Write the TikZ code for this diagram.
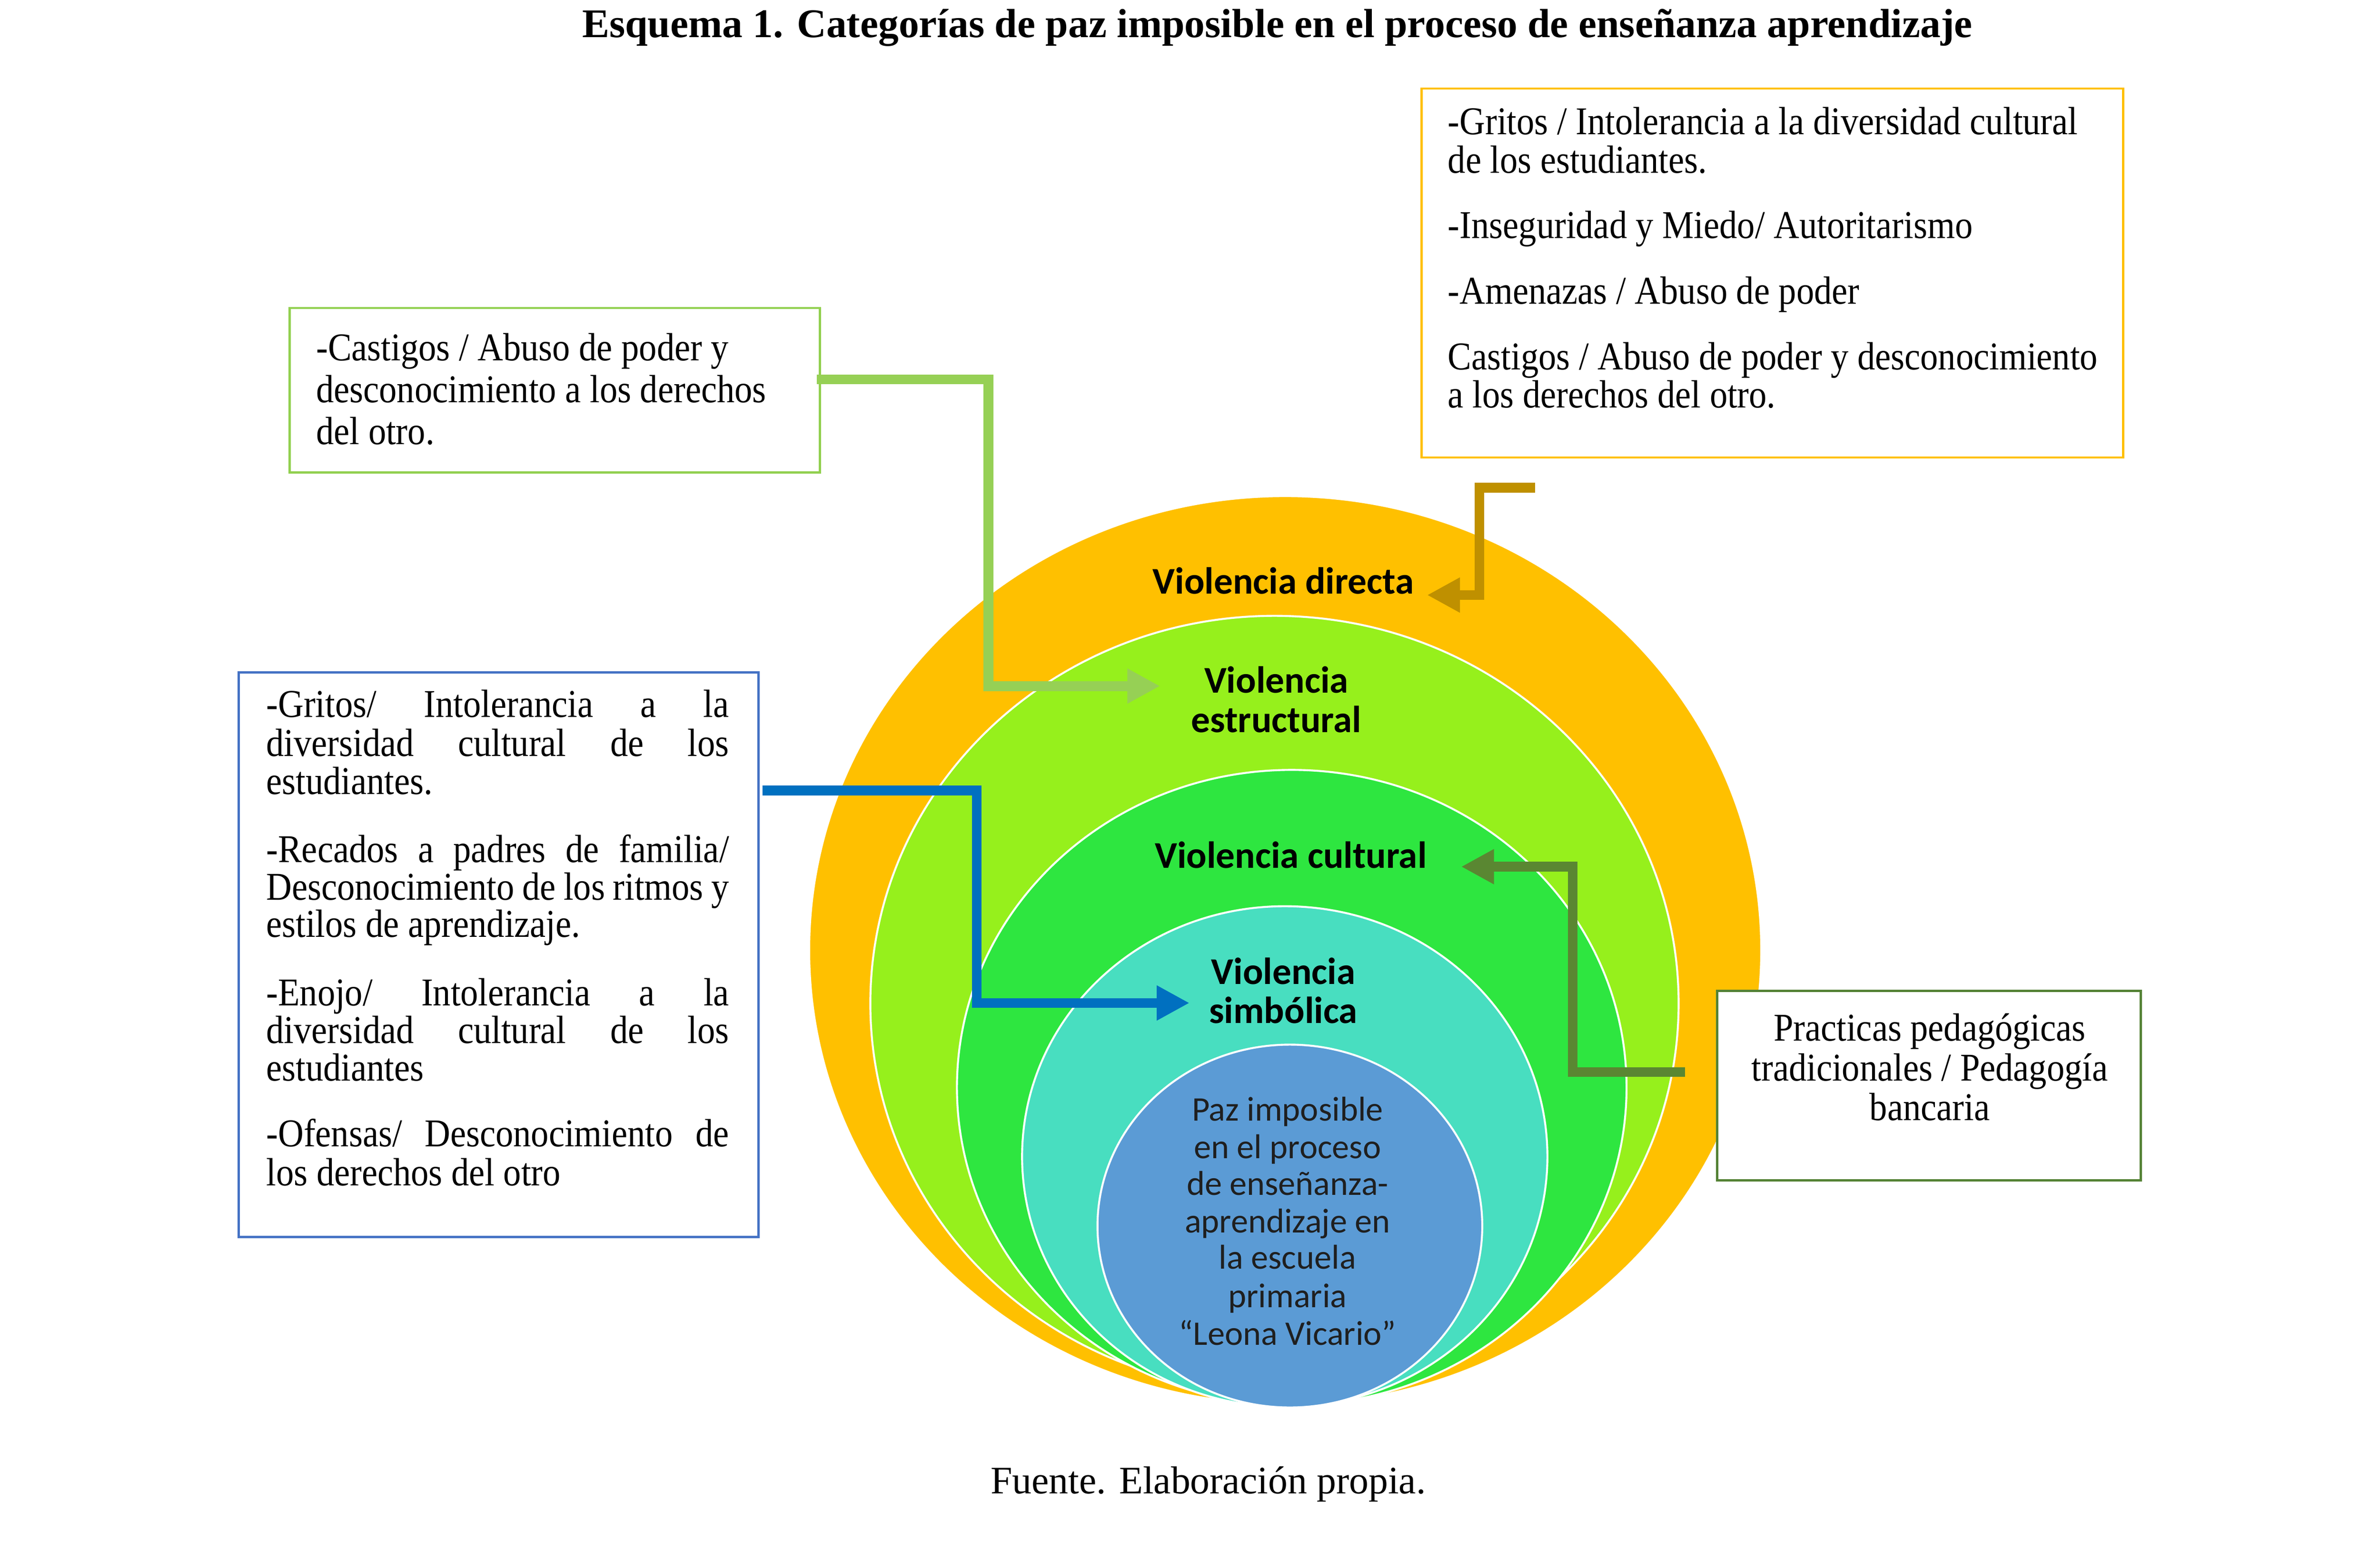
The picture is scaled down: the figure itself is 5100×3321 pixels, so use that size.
\documentclass[tikz,border=0pt]{standalone}
\usepackage{fontspec}
\setmainfont{Liberation Serif}
\newfontfamily\boxfont[FakeStretch=0.9]{Liberation Serif}
\newfontfamily\calfont{Carlito}
\usetikzlibrary{arrows.meta,shapes.geometric}
\definecolor{cOrange}{HTML}{FFC000}
\definecolor{cLime}{RGB}{150,240,28}
\definecolor{cGreen}{RGB}{46,230,64}
\definecolor{cTurq}{RGB}{72,222,192}
\definecolor{cBlue}{HTML}{5B9BD5}
\definecolor{bGreen}{HTML}{92D050}
\definecolor{bYellow}{HTML}{FFC000}
\definecolor{bBlue}{HTML}{4472C4}
\definecolor{bDark}{HTML}{548235}
\definecolor{aLime}{RGB}{150,208,85}
\definecolor{aGold}{HTML}{BF9000}
\definecolor{aBlue}{HTML}{0070C0}
\definecolor{aDark}{RGB}{90,135,50}
\begin{document}
\begin{tikzpicture}[x=0.01cm,y=-0.01cm,
  ring/.style={ellipse, draw=white, line width=1.2pt, inner sep=0pt},
  frame/.style={rectangle, line width=1.4pt, inner sep=0pt, fill=white},
  btxt/.style={anchor=base west, inner sep=0pt, font=\boxfont\fontsize{24}{24}\selectfont},
  ctxt/.style={anchor=base, inner sep=0pt, font=\boxfont\fontsize{24}{24}\selectfont},
  lbl/.style={anchor=base, inner sep=0pt, font=\calfont\bfseries\fontsize{23}{23}\selectfont},
  core/.style={anchor=base, inner sep=0pt, text=black!88, font=\calfont\fontsize{21}{21}\selectfont},
  conn/.style={line width=6pt, -{Triangle[length=20pt,width=20pt]}},
]
\useasboundingbox[fill=white] (0,0) rectangle (5100,3321);

% title and source
\node[anchor=base, inner sep=0pt, font=\bfseries\fontsize{24.8}{24.8}\selectfont] (title) at (2737,80)
  {Esquema 1. Categorías de paz imposible en el proceso de enseñanza aprendizaje};
\node[anchor=base, inner sep=0pt, font=\fontsize{23.7}{23.7}\selectfont] (src) at (2589,3200)
  {Fuente. Elaboración propia.};

% nested ellipses
\node[ring, fill=cOrange, minimum width=20.39cm, minimum height=19.45cm] (e1) at (2754,2036) {};
\node[ring, fill=cLime, minimum width=17.31cm, minimum height=16.60cm] (e2) at (2731,2150) {};
\node[ring, fill=cGreen, minimum width=14.34cm, minimum height=13.60cm] (e3) at (2768,2330) {};
\node[ring, fill=cTurq, minimum width=11.25cm, minimum height=10.72cm] (e4) at (2753,2478) {};
\node[ring, fill=cBlue, minimum width=8.24cm, minimum height=7.77cm] (e5) at (2764,2627) {};

% ellipse labels
\node[lbl] (ldir) at (2750,1272) {Violencia directa};
\node[lbl] (lest1) at (2735,1485) {Violencia};
\node[lbl] (lest2) at (2735,1569) {estructural};
\node[lbl] (lcul) at (2766,1860) {Violencia cultural};
\node[lbl] (lsim1) at (2750,2109) {Violencia};
\node[lbl] (lsim2) at (2750,2192) {simbólica};
\node[core] (k1) at (2759,2402) {Paz imposible};
\node[core] (k2) at (2759,2482) {en el proceso};
\node[core] (k3) at (2759,2561) {de enseñanza-};
\node[core] (k4) at (2759,2641) {aprendizaje en};
\node[core] (k5) at (2759,2719) {la escuela};
\node[core] (k6) at (2759,2801) {primaria};
\node[core] (k7) at (2759,2882) {“Leona Vicario”};

% boxes
\node[frame, draw=bGreen, minimum width=11.36cm, minimum height=3.52cm] (gbox) at (1189,836) {};
\node[frame, draw=bYellow, minimum width=15.02cm, minimum height=7.90cm] (ybox) at (3798,585) {};
\node[frame, draw=bBlue, minimum width=11.13cm, minimum height=12.09cm] (bbox) at (1068.5,2045.5) {};
\node[frame, draw=bDark, minimum width=9.07cm, minimum height=4.06cm] (dbox) at (4133.5,2326) {};

% green box text
\node[btxt] (g1) at (677,773) {-Castigos / Abuso de poder y};
\node[btxt] (g2) at (677,862) {desconocimiento a los derechos};
\node[btxt] (g3) at (677,952) {del otro.};

% yellow box text
\node[btxt] (y1) at (3102,288) {-Gritos / Intolerancia a la diversidad cultural};
\node[btxt] (y2) at (3102,371) {de los estudiantes.};
\node[btxt] (y3) at (3102,510) {-Inseguridad y Miedo/ Autoritarismo};
\node[btxt] (y4) at (3102,651) {-Amenazas / Abuso de poder};
\node[btxt] (y5) at (3102,792) {Castigos / Abuso de poder y desconocimiento};
\node[btxt] (y6) at (3102,874) {a los derechos del otro.};

% blue box text (justified)
\node[btxt] (b1) at (570,1537) {\makebox[9.91cm][s]{-Gritos/ Intolerancia a la}};
\node[btxt] (b2) at (570,1620) {\makebox[9.91cm][s]{diversidad cultural de los}};
\node[btxt] (b3) at (570,1702) {estudiantes.};
\node[btxt] (b4) at (570,1848) {\makebox[9.91cm][s]{-Recados a padres de familia/}};
\node[btxt] (b5) at (570,1928) {\makebox[9.91cm][s]{Desconocimiento de los ritmos y}};
\node[btxt] (b6) at (570,2008) {estilos de aprendizaje.};
\node[btxt] (b7) at (570,2155) {\makebox[9.91cm][s]{-Enojo/ Intolerancia a la}};
\node[btxt] (b8) at (570,2235) {\makebox[9.91cm][s]{diversidad cultural de los}};
\node[btxt] (b9) at (570,2316) {estudiantes};
\node[btxt] (b10) at (570,2457) {\makebox[9.91cm][s]{-Ofensas/ Desconocimiento de}};
\node[btxt] (b11) at (570,2540) {los derechos del otro};

% dark green box text
\node[ctxt] (d1) at (4135,2230) {Practicas pedagógicas};
\node[ctxt] (d2) at (4135,2316) {tradicionales / Pedagogía};
\node[ctxt] (d3) at (4135,2401) {bancaria};

% connectors
\coordinate (la0) at (1750,813);
\coordinate (la1) at (2118,813);
\coordinate (la2) at (2118,1470);
\coordinate (la3) at (2486,1470);
\draw[conn, aLime] (la0) -- (la1) -- (la2) -- (la3);

\coordinate (ga0) at (3289,1045);
\coordinate (ga1) at (3170,1045);
\coordinate (ga2) at (3170,1275);
\coordinate (ga3) at (3058,1275);
\draw[conn, aGold] (ga0) -- (ga1) -- (ga2) -- (ga3);

\coordinate (ba0) at (1634,1694);
\coordinate (ba1) at (2093,1694);
\coordinate (ba2) at (2093,2149);
\coordinate (ba3) at (2549,2149);
\draw[conn, aBlue] (ba0) -- (ba1) -- (ba2) -- (ba3);

\coordinate (da0) at (3611,2297);
\coordinate (da1) at (3370,2297);
\coordinate (da2) at (3370,1857);
\coordinate (da3) at (3131,1857);
\draw[conn, aDark] (da0) -- (da1) -- (da2) -- (da3);
\end{tikzpicture}
\end{document}
